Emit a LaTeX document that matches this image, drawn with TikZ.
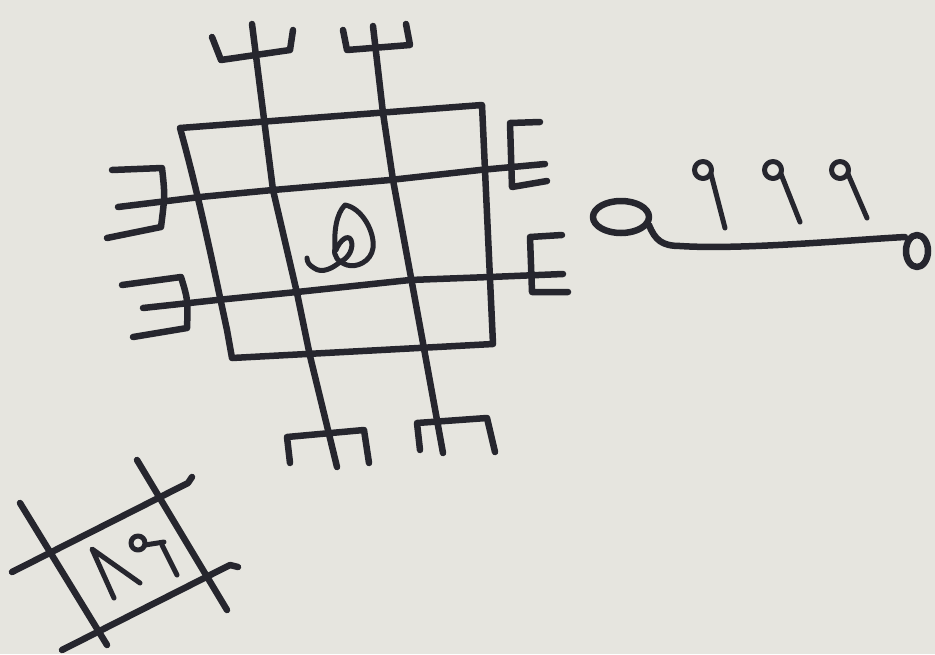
\documentclass[tikz,border=0pt]{standalone}
\definecolor{paper}{HTML}{E6E5DF}
\definecolor{ink}{HTML}{26262E}
\begin{document}
\begin{tikzpicture}[x=1pt,y=-1pt,
  inkline/.style={draw=ink,line width=6.5pt,line cap=round,line join=round},
  thinink/.style={draw=ink,line width=5pt,line cap=round,line join=round}]
\fill[paper] (0,0) rectangle (935,654);
\useasboundingbox (0,0) rectangle (935,654);
% outer square
\draw[inkline] (180,128) -- (482,105) -- (493,344) -- (232,358) -- (227,330) .. controls (214,270) and (200,200) .. (180,128);
% vertical line 1 with trident and m
\draw[inkline] (252,24) -- (265,127) -- (273,190) -- (297,293) -- (310,356) -- (337,467);
\draw[inkline] (212,37) -- (221,60) -- (290,50) -- (293,30);
\draw[inkline] (290,463) -- (287,437) -- (364,430) -- (369,463);
% vertical line 2 with trident and m
\draw[inkline] (373,26) -- (383,113) -- (393,180) -- (412,283) -- (423,343) -- (443,453);
\draw[inkline] (343,30) -- (347,50) -- (410,45) -- (406,24);
\draw[inkline] (420,450) -- (417,423) -- (487,418) -- (495,452);
% horizontal line 1 with reversed E and E
\draw[inkline] (118,207) -- (200,197) -- (273,190) -- (390,180) -- (480,170) -- (545,164);
\draw[inkline] (112,170) -- (162,168) .. controls (165,195) .. (161,227) -- (107,238);
\draw[inkline] (540,122) -- (510,123) -- (512,187) -- (547,181);
% horizontal line 2 with reversed E and E
\draw[inkline] (143,308) -- (217,300) -- (297,292) -- (410,280) -- (490,277) -- (563,274);
\draw[inkline] (122,285) -- (181,277) .. controls (188,300) .. (187,328) -- (133,337);
\draw[inkline] (562,235) -- (530,237) -- (532,292) -- (568,292);
% central sign
\draw[thinink] (345,205) .. controls (362,208) and (375,232) .. (373,248)
  .. controls (371,262) and (356,268) .. (347,265)
  .. controls (338,262) and (333,256) .. (335,248)
  .. controls (334,232) and (336,214) .. (345,205);
\draw[thinink] (336,250) .. controls (340,240) and (348,234) .. (351,240)
  .. controls (354,248) and (349,258) .. (340,262);
\draw[thinink] (340,262) .. controls (333,268) and (322,274) .. (314,268)
  .. controls (309,265) and (307,262) .. (307,258);
% right figure: a with 999
\draw[inkline] (621,217) ellipse [x radius=28, y radius=16];
\draw[inkline] (649,225) .. controls (655,240) and (662,246) .. (680,246)
  .. controls (740,250) and (850,240) .. (905,237);
\draw[inkline] (917,251) ellipse [x radius=11, y radius=16];
\draw[thinink] (703,170) circle [radius=8.5];
\draw[thinink] (711,174) -- (725,228);
\draw[thinink] (773,170) circle [radius=8.5];
\draw[thinink] (781,174) -- (800,222);
\draw[thinink] (840,170) circle [radius=8.5];
\draw[thinink] (848,174) -- (867,218);
% small sigil bottom left
\draw[inkline] (20,503) -- (107,645);
\draw[inkline] (137,460) -- (227,610);
\draw[inkline] (12,572) -- (188,483) -- (192,477);
\draw[inkline] (62,650) -- (230,565) -- (238,567);
\draw[thinink] (114,598) -- (92,549) -- (140,583);
\draw[thinink] (138,543) circle [radius=7];
\draw[thinink] (145,545) -- (164,542);
\draw[thinink] (162,545) -- (177,575);
\end{tikzpicture}
\end{document}
